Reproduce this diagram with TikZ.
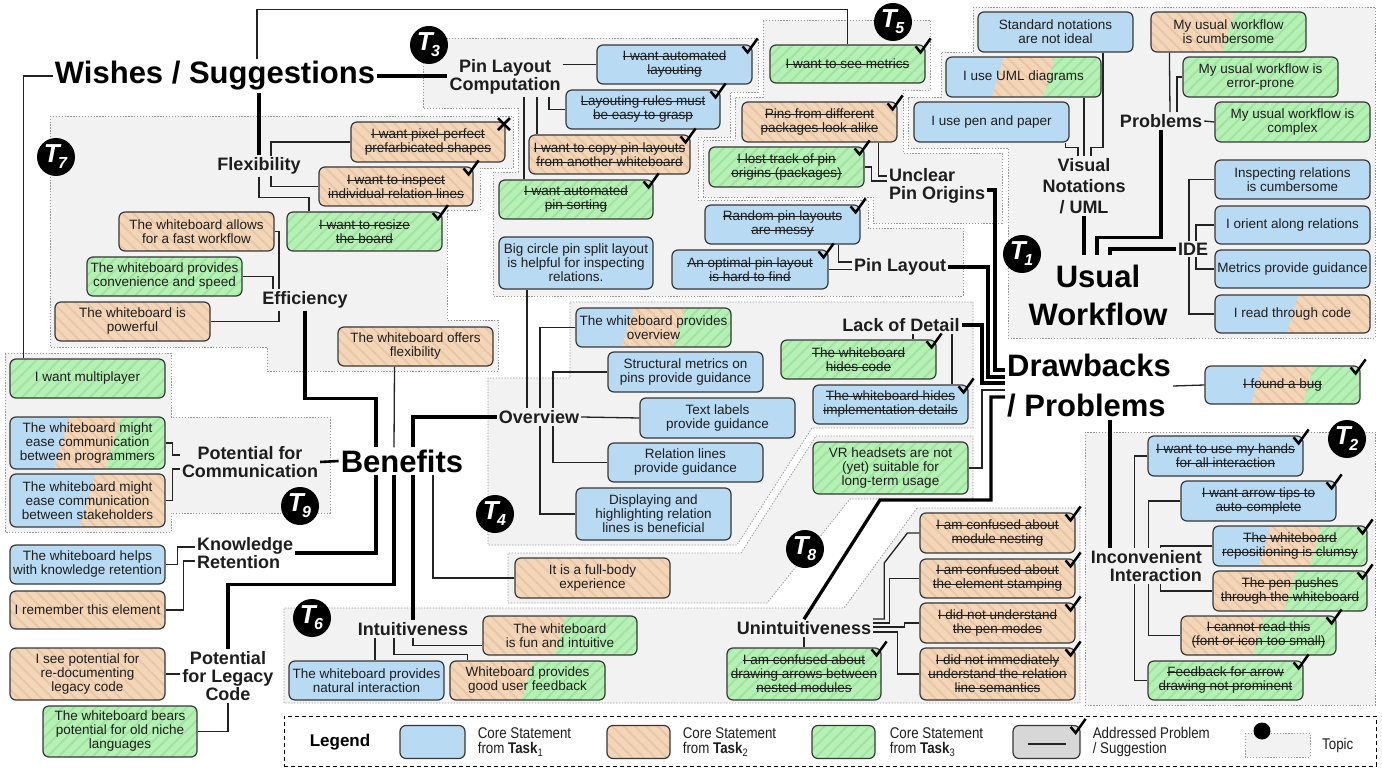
\documentclass[tikz,border=0pt]{standalone}
\usepackage{fontspec}
\setmainfont{Liberation Sans}
\newfontfamily\narrowfont{Liberation Sans}[FakeStretch=0.86]
\usetikzlibrary{calc,patterns.meta}
\definecolor{cblue}{RGB}{184,218,242}
\definecolor{corange}{RGB}{243,213,184}
\definecolor{corangeH}{RGB}{232,197,165}
\definecolor{cgreen}{RGB}{181,240,181}
\definecolor{cgreenH}{RGB}{160,226,160}
\definecolor{cgray}{RGB}{242,242,242}
\definecolor{cregb}{RGB}{150,150,150}
\definecolor{cborder}{RGB}{55,55,55}
\definecolor{cline}{RGB}{35,35,35}
\definecolor{ctext}{RGB}{30,30,30}
\definecolor{clegg}{RGB}{215,215,215}
\pgfdeclarelayer{regions}
\pgfdeclarelayer{bg}
\pgfsetlayers{regions,bg,main}
\newsavebox\skbox
\newcommand\sk[1]{\sbox\skbox{#1}\rlap{\rule[0.27em]{\wd\skbox}{1pt}}\usebox\skbox}
\newcommand\stm[7]{\node[#1,minimum width={#5-#3},minimum height={#6-#4}] (#2) at ({(#3+#5)/2},{(#4+#6)/2}) {#7};}
\newcommand\spII[6]{%
 \begin{scope}
 \clip[rounded corners=6pt] (#1,#2) rectangle (#3,#4);
 \path[#5] (#1,#2) rectangle (#3,#4);
 \path[#6] ({(#1+#3)/2+0.15*(#4-#2)},#2) -- (#3,#2) -- (#3,#4) -- ({(#1+#3)/2-0.15*(#4-#2)},#4) -- cycle;
 \end{scope}}
\newcommand\spIII[7]{%
 \begin{scope}
 \clip[rounded corners=6pt] (#1,#2) rectangle (#3,#4);
 \path[#5] (#1,#2) rectangle (#3,#4);
 \path[#6] ({#1+(#3-#1)/3+0.15*(#4-#2)},#2) -- ({#1+2*(#3-#1)/3+0.15*(#4-#2)},#2) -- ({#1+2*(#3-#1)/3-0.15*(#4-#2)},#4) -- ({#1+(#3-#1)/3-0.15*(#4-#2)},#4) -- cycle;
 \path[#7] ({#1+2*(#3-#1)/3+0.15*(#4-#2)},#2) -- (#3,#2) -- (#3,#4) -- ({#1+2*(#3-#1)/3-0.15*(#4-#2)},#4) -- cycle;
 \end{scope}}
\newcommand\chk[1]{\draw[chkst] ($(#1.north east)+(-10,2)$) -- ++(5,6) -- ++(10,-14);}
\newcommand\Tlab[3]{\node[tcirc] (#1) at (#2) {T\kern-1.5pt\raisebox{-6pt}{\fontsize{16}{16}\selectfont #3}\kern1pt};}
\begin{document}
\begin{tikzpicture}[x=1pt,y=-1pt,
 stmt/.style={draw=cborder, line width=1.2pt, rounded corners=6pt, align=center, inner sep=1pt, font=\fontsize{13.5}{14}\selectfont, text=ctext},
 bx/.style={stmt, fill=cblue},
 ox/.style={stmt, preaction={fill=corange}, pattern={Lines[angle=-45,distance=8pt,line width=1.8pt]}, pattern color=corangeH},
 gx/.style={stmt, preaction={fill=cgreen}, pattern={Lines[angle=45,distance=8pt,line width=1.8pt]}, pattern color=cgreenH},
 sx/.style={stmt},
 fB/.style={fill=cblue},
 fO/.style={preaction={fill=corange}, pattern={Lines[angle=-45,distance=8pt,line width=1.8pt]}, pattern color=corangeH},
 fG/.style={preaction={fill=cgreen}, pattern={Lines[angle=45,distance=8pt,line width=1.8pt]}, pattern color=cgreenH},
 reg/.style={fill=cgray, draw=cregb, line width=0.8pt, dash pattern=on 1.3pt off 1.6pt},
 conn/.style={draw=cline, line width=1.3pt},
 thk/.style={draw=black, line width=3.3pt},
 topbig/.style={font=\fontsize{31}{38}\selectfont\bfseries, inner sep=2pt, align=center, text=black},
 topsub/.style={font=\fontsize{18}{18}\selectfont\bfseries, inner sep=2pt, align=center, text=ctext},
 legtxt/.style={anchor=west, font=\narrowfont\fontsize{15.5}{15}\selectfont, align=left, inner sep=0pt, text=ctext},
 chkst/.style={draw=black, line width=2.5pt},
 tcirc/.style={circle, fill=black, minimum size=38pt, inner sep=0pt, text=white, font=\fontsize{26}{26}\selectfont\bfseries\itshape},
]
\useasboundingbox (0,0) rectangle (1382,770);
\begin{pgfonlayer}{regions}
\fill[white] (0,0) rectangle (1382,770);
\path[reg] (973,7) -- (1375,7) -- (1375,338) -- (1008,338) -- (1008,148) -- (908,148) -- (908,97) -- (941,97) -- (941,52) -- (973,52) -- cycle;
\path[reg] (763,20) -- (930,20) -- (930,90) -- (903,90) -- (903,153) -- (1002,153) -- (1002,223) -- (873,223) -- (873,197) -- (703,197) -- (703,140) -- (735,140) -- (735,97) -- (763,97) -- cycle;
\path[reg] (423,38) -- (758,38) -- (758,92) -- (730,92) -- (730,137) -- (698,137) -- (698,200) -- (868,200) -- (868,228) -- (963,228) -- (963,296) -- (493,296) -- (493,172) -- (518,172) -- (518,108) -- (423,108) -- cycle;
\path[reg] (50,116) -- (513,116) -- (513,168) -- (480,168) -- (480,210) -- (447,210) -- (447,320) -- (498,320) -- (498,371) -- (267,371) -- (267,347) -- (50,347) -- cycle;
\path[reg] (5,353) -- (171,353) -- (171,417) -- (330,417) -- (330,513) -- (171,513) -- (171,532) -- (5,532) -- cycle;
\path[reg] (570,302) -- (973,302) -- (973,428) -- (812,428) -- (737,545) -- (488,545) -- (488,378) -- (570,378) -- cycle;
\path[reg] (816,436) -- (973,436) -- (973,499) -- (850,499) -- (767,603) -- (508,603) -- (508,553) -- (741,553) -- cycle;
\path[reg] (917,508) -- (1080,508) -- (1080,703) -- (284,703) -- (284,608) -- (844,608) -- cycle;
\path[reg] (1085,432) rectangle (1375,705);
\end{pgfonlayer}

% main topics
\node[topbig] (wish) at (215,76) {Wishes / Suggestions};
\node[topbig] (usual) at (1098,295) {Usual\\Workflow};
\node[topbig, font=\fontsize{31}{40}\selectfont\bfseries, align=left, anchor=west] (drw) at (1005,386) {Drawbacks\\/ Problems};
\node[topbig] (ben) at (402,461) {Benefits};

% sub topics
\node[topsub] (plc) at (505,77) {Pin Layout\\Computation};
\node[topsub, fill=cgray] (flex) at (259,166) {Flexibility};
\node[topsub] (eff) at (305,300) {Efficiency};
\node[topsub] (pfc) at (250,462) {Potential for\\Communication};
\node[topsub, align=left, anchor=west] (kr) at (195,553) {Knowledge\\Retention};
\node[topsub] (plg) at (228,676) {Potential\\for Legacy\\Code};
\node[topsub] (intu) at (413,629) {Intuitiveness};
\node[topsub] (ovw) at (539,417) {Overview};
\node[topsub] (lod) at (901,325) {Lack of Detail};
\node[topsub] (pl) at (900,267) {Pin Layout};
\node[topsub, align=left, anchor=west] (upo) at (887,186) {Unclear\\Pin Origins};
\node[topsub, font=\fontsize{18}{21}\selectfont\bfseries] (vis) at (1084,186) {Visual\\Notations\\/ UML};
\node[topsub] (prob) at (1161,121) {Problems};
\node[topsub, fill=cgray] (ide) at (1193,249) {IDE};
\node[topsub] (unin) at (804,628) {Unintuitiveness};
\node[topsub, align=right, anchor=east, fill=cgray] (inc) at (1204,566) {Inconvenient\\Interaction};

% T7
\stm{ox}{b_pix}{351}{122}{505}{162}{\sk{I want pixel-perfect}\\\sk{prefarbicated shapes}}
\stm{ox}{b_insp}{319}{167}{473}{206}{\sk{I want to inspect}\\\sk{individual relation lines}}
\stm{gx}{b_res}{287}{212}{442}{251}{\sk{I want to resize}\\\sk{the board}}
\stm{ox}{b_fast}{119}{212}{274}{251}{The whiteboard allows\\for a fast workflow}
\stm{gx}{b_conv}{87}{257}{242}{296}{The whiteboard provides\\convenience and speed}
\stm{ox}{b_pow}{55}{302}{210}{341}{The whiteboard is\\powerful}
\stm{ox}{b_flexo}{338}{327}{493}{366}{The whiteboard offers\\flexibility}
% T9
\stm{gx}{b_multi}{10}{359}{165}{398}{I want multiplayer}
\spIII{10}{417}{165}{469}{fB}{fO}{fG}
\stm{sx}{b_prog}{10}{417}{165}{469}{The whiteboard might\\ease communication\\between programmers}
\spII{10}{474}{165}{527}{fB}{fO}
\stm{sx}{b_stake}{10}{474}{165}{527}{The whiteboard might\\ease communication\\between stakeholders}
\stm{bx}{b_kr}{10}{545}{165}{584}{The whiteboard helps\\with knowledge retention}
\stm{ox}{b_rem}{10}{591}{165}{629}{I remember this element}
\stm{ox}{b_redoc}{10}{648}{165}{700}{I see potential for\\re-documenting\\legacy code}
\stm{gx}{b_niche}{43}{706}{197}{757}{The whiteboard bears\\potential for old niche\\languages}
% T6
\stm{bx}{b_nat}{289}{661}{444}{700}{The whiteboard provides\\natural interaction}
\spII{450}{661}{605}{700}{fO}{fG}
\stm{sx}{b_fb}{450}{661}{605}{700}{Whiteboard provides\\good user feedback}
\spII{483}{616}{637}{655}{fO}{fG}
\stm{sx}{b_fun}{483}{616}{637}{655}{The whiteboard\\is fun and intuitive}
\stm{ox}{b_body}{515}{558}{670}{598}{It is a full-body\\experience}
% T4
\stm{bx}{b_big}{499}{237}{653}{289}{Big circle pin split layout\\is helpful for inspecting\\relations.}
\spIII{576}{308}{731}{347}{fB}{fO}{fG}
\stm{sx}{b_ovw}{576}{308}{731}{347}{The whiteboard provides\\overview}
\stm{bx}{b_struct}{608}{352}{763}{392}{Structural metrics on\\pins provide guidance}
\stm{bx}{b_text}{640}{398}{795}{438}{Text labels\\provide guidance}
\stm{bx}{b_rel}{608}{443}{763}{482}{Relation lines\\provide guidance}
\stm{bx}{b_disp}{576}{488}{731}{540}{Displaying and\\highlighting relation\\lines is beneficial}
\stm{gx}{b_code}{781}{340}{936}{379}{\sk{The whiteboard}\\\sk{hides code}}
\stm{bx}{b_impl}{813}{385}{968}{424}{\sk{The whiteboard hides}\\\sk{implementation details}}
\stm{gx}{b_vr}{813}{442}{968}{494}{VR headsets are not\\(yet) suitable for\\long-term usage}
% T3
\stm{bx}{b_auto}{597}{45}{752}{84}{\sk{I want automated}\\\sk{layouting}}
\stm{bx}{b_rules}{566}{90}{720}{129}{\sk{Layouting rules must}\\\sk{be easy to grasp}}
\stm{ox}{b_copy}{529}{135}{690}{174}{\sk{I want to copy pin layouts}\\\sk{from another whiteboard}}
\stm{gx}{b_sort}{499}{180}{653}{219}{\sk{I want automated}\\\sk{pin sorting}}
\stm{bx}{b_rand}{705}{205}{860}{244}{\sk{Random pin layouts}\\\sk{are messy}}
\stm{bx}{b_opt}{672}{250}{828}{289}{\sk{An optimal pin layout}\\\sk{is hard to find}}
% T5
\stm{gx}{b_metr}{770}{45}{925}{83}{\sk{I want to see metrics}}
\stm{ox}{b_pins}{742}{102}{897}{142}{\sk{Pins from different}\\\sk{packages look alike}}
\stm{gx}{b_lost}{709}{147}{864}{187}{\sk{I lost track of pin}\\\sk{origins (packages)}}
% T1
\stm{bx}{b_std}{978}{12}{1133}{52}{Standard notations\\are not ideal}
\spIII{946}{57}{1101}{97}{fB}{fO}{fG}
\stm{sx}{b_uml}{946}{57}{1101}{97}{I use UML diagrams}
\stm{bx}{b_pen}{914}{102}{1069}{142}{I use pen and paper}
\spII{1151}{12}{1306}{52}{fO}{fG}
\stm{sx}{b_cumb}{1151}{12}{1306}{52}{My usual workflow\\is cumbersome}
\stm{gx}{b_err}{1183}{57}{1338}{97}{My usual workflow is\\error-prone}
\stm{gx}{b_cplx}{1215}{102}{1370}{142}{My usual workflow is\\complex}
\stm{bx}{b_insr}{1215}{160}{1370}{199}{Inspecting relations\\is cumbersome}
\stm{bx}{b_orient}{1215}{206}{1370}{244}{I orient along relations}
\stm{bx}{b_metg}{1215}{250}{1370}{288}{Metrics provide guidance}
\spII{1215}{295}{1370}{333}{fB}{fO}
\stm{sx}{b_read}{1215}{295}{1370}{333}{I read through code}
% Drawbacks
\spIII{1205}{366}{1360}{404}{fB}{fO}{fG}
\stm{sx}{b_bug}{1205}{366}{1360}{404}{\sk{I found a bug}}
% T8
\stm{ox}{b_nest}{920}{513}{1075}{553}{\sk{I am confused about}\\\sk{module nesting}}
\stm{ox}{b_stamp}{920}{559}{1075}{598}{\sk{I am confused about}\\\sk{the element stamping}}
\stm{ox}{b_penm}{920}{603}{1075}{643}{\sk{I did not understand}\\\sk{the pen modes}}
\stm{ox}{b_sem}{920}{648}{1075}{700}{\sk{I did not immediately}\\\sk{understand the relation}\\\sk{line semantics}}
\stm{gx}{b_arr}{727}{648}{881}{700}{\sk{I am confused about}\\\sk{drawing arrows between}\\\sk{nested modules}}
% T2
\stm{bx}{b_hands}{1148}{436}{1303}{476}{\sk{I want to use my hands}\\\sk{for all interaction}}
\stm{bx}{b_tips}{1181}{481}{1336}{521}{\sk{I want arrow tips to}\\\sk{auto-complete}}
\spIII{1213}{526}{1367}{566}{fB}{fO}{fG}
\stm{sx}{b_repos}{1213}{526}{1367}{566}{\sk{The whiteboard}\\\sk{repositioning is clumsy}}
\spII{1213}{571}{1367}{611}{fO}{fG}
\stm{sx}{b_push}{1213}{571}{1367}{611}{\sk{The pen pushes}\\\sk{through the whiteboard}}
\spII{1181}{616}{1336}{655}{fO}{fG}
\stm{sx}{b_read2}{1181}{616}{1336}{655}{\sk{I cannot read this}\\\sk{(font or icon too small)}}
\stm{gx}{b_feed}{1148}{661}{1303}{700}{\sk{Feedback for arrow}\\\sk{drawing not prominent}}

% check marks
\foreach \n in {b_insp,b_res,b_auto,b_rules,b_copy,b_sort,b_rand,b_opt,b_metr,b_pins,b_lost,b_code,b_impl,b_bug,b_nest,b_stamp,b_penm,b_sem,b_arr,b_hands,b_tips,b_repos,b_push,b_read2,b_feed}{\chk{\n}}
\draw[chkst] ($(b_pix.north east)+(-8,-3)$) -- ++(12,12) ($(b_pix.north east)+(4,-3)$) -- ++(-12,12);

% legend
\node[draw=black, dash pattern=on 4pt off 3pt, line width=1pt, minimum width=1092, minimum height=50, fill=white] (leg) at (830,741) {};
\node[font=\fontsize{17}{17}\selectfont\bfseries] (legt) at (340,742) {Legend};
\node[bx, minimum width=65, minimum height=33] (lb1) at (432.5,742) {};
\node[legtxt] (lt1) at ($(lb1.east)+(12,0)$) {Core Statement\\from \textbf{Task}\textsubscript{1}};
\node[ox, minimum width=63, minimum height=33] (lb2) at (638.5,742) {};
\node[legtxt] (lt2) at ($(lb2.east)+(12,0)$) {Core Statement\\from \textbf{Task}\textsubscript{2}};
\node[gx, minimum width=63, minimum height=33] (lb3) at (843.5,742) {};
\node[legtxt] (lt3) at ($(lb3.east)+(14,0)$) {Core Statement\\from \textbf{Task}\textsubscript{3}};
\node[stmt, fill=clegg, minimum width=67, minimum height=33] (lb4) at (1046.5,742) {};
\draw[conn, line width=1.2pt] ($(lb4.center)+(-19,2)$) -- ++(38,0);
\chk{lb4}
\node[legtxt] (lt4) at ($(lb4.east)+(12,0)$) {Addressed Problem\\/ Suggestion};
\path[reg] (1245,733) rectangle (1310,757);
\fill[black] (1262,731) circle (8.5);
\node[legtxt] (lt5) at (1322,745) {Topic};

% topic markers
\Tlab{t1}{1022,254}{1}
\Tlab{t2}{1347,439}{2}
\Tlab{t3}{429,45}{3}
\Tlab{t4}{495,514}{4}
\Tlab{t5}{893,22}{5}
\Tlab{t6}{312,618}{6}
\Tlab{t7}{56,157}{7}
\Tlab{t8}{805,549}{8}
\Tlab{t9}{300,506}{9}

% connectors
\begin{pgfonlayer}{bg}
\draw[conn] ($(wish.north)+(42,0)$) |- ($(b_metr.north)+(0,-35)$) -- (b_metr.north);
\draw[conn] (wish.west) -| ($(b_multi.north west)+(14,0)$);
\draw[thk] (wish.east) -- (plc.west |- wish.east);
\draw[thk] (flex.north |- wish.south) -- (flex.north);
\draw[conn] (flex.south) -- ++(0,21) -| ($(b_res.north west)+(23,0)$);
\draw[conn] (b_pix.west) -| ($(flex.center)+(12,0)$) |- (b_insp.west);
\draw[conn] (b_fast.east) -| ($(eff.north)+(-26,0)$);
\draw[conn] (b_conv.east) -| ($(eff.north)+(-32,0)$);
\draw[conn] (b_pow.east) -| ($(eff.south)+(-26,0)$);
\draw[thk] (eff.south) -- ++(0,88) -| ($(ben.north)+(-26,0)$);
\draw[conn] ($(b_flexo.south)+(-21,0)$) -- ($(ben.north)+(-8,0)$);
\draw[thk] ($(ben.north)+(11,0)$) |- (ovw.west);
\draw[thk, line width=2.6pt] (pfc.east) -- (ben.west);
\draw[thk] ($(ben.south)+(-26,0)$) |- (kr.east);
\draw[thk] ($(ben.south)+(-8,0)$) -- ++(0,110) -| (plg.north);
\draw[thk] ($(ben.south)+(11,0)$) -- (intu.north);
\draw[conn] ($(ben.south)+(31,0)$) |- (b_body.west);
\draw[conn] (b_prog.east) -- ++(7,0) |- ($(pfc.west)+(0,-7)$);
\draw[conn] (b_stake.east) -- ++(7,0) |- ($(pfc.west)+(0,7)$);
\draw[conn] (b_kr.east) -- ++(12,0) |- ($(kr.west)+(0,-6)$);
\draw[conn] (b_rem.east) -- ++(18,0) |- ($(kr.west)+(0,8)$);
\draw[conn] (b_redoc.east) -- (plg.west |- b_redoc.east);
\draw[conn] (b_niche.east) -| (plg.south);
\draw[conn] ($(intu.south)+(-38,0)$) -- ($(b_nat.north)+(8.5,0)$);
\draw[conn] ($(intu.south)+(-19,0)$) -- ++(0,17) -| ($(b_fb.north west)+(18,0)$);
\draw[conn] (intu.south) |- ($(b_fun.west)+(0,10)$);
\draw[conn] ($(b_big.south)+(-49,0)$) -- ($(ovw.north)+(-12,0)$);
\draw[conn] (b_ovw.west) -| ($(ovw.north)+(1,0)$);
\draw[conn] (b_struct.west) -| ($(ovw.north)+(14,0)$);
\draw[conn] (ovw.east) -- (b_text.west);
\draw[conn] ($(ovw.south)+(14,0)$) |- (b_rel.west);
\draw[conn] ($(ovw.south)+(1,0)$) |- (b_disp.west);
\draw[conn] ($(lod.south)+(12,0)$) -- ($(b_code.north)+(54.5,0)$);
\draw[conn] ($(lod.south)+(51,0)$) -- ($(b_impl.north)+(61.5,0)$);
\draw[thk] (lod.east) -| ($(drw.west)+(-23,-3)$) -- ($(drw.west)+(0,-3)$);
\draw[thk] (pl.east) -| ($(drw.west)+(-17,-9)$) -- ($(drw.west)+(0,-9)$);
\draw[thk] ($(upo.east)+(0,4)$) -| ($(drw.west)+(-10,-16)$) -- ($(drw.west)+(0,-16)$);
\draw[conn] (b_vr.east) -| ($(drw.west)+(-23,4)$) -- ($(drw.west)+(0,4)$);
\draw[thk] ($(drw.west)+(0,11)$) -| ($(drw.west)+(-14,114)$) -- ($(drw.west)+(-125,114)$) -- (unin.north);
\draw[conn] (drw.east) -- (b_bug.west);
\coordinate (dd) at ($(drw.south)+(21,0)$);
\draw[thk] (dd) -- (dd |- inc.north);
\draw[conn] ($(b_pins.south east)+(-19,0)$) |- ($(upo.west)+(0,-10)$);
\draw[conn] (b_lost.east) -- ++(7,0) |- ($(upo.west)+(0,-5)$);
\draw[conn] ($(b_rand.south east)+(-22,0)$) |- ($(pl.west)+(0,-5)$);
\draw[conn] (b_opt.east) -- (pl.west |- b_opt.east);
\draw[conn] (plc.east |- b_auto.west) -- (b_auto.west);
\draw[conn] ($(plc.south)+(44,0)$) |- (b_rules.west);
\draw[conn] ($(plc.south)+(32,0)$) -- ($(b_copy.north)+(-72.5,0)$);
\draw[conn] ($(plc.south)+(19,0)$) -- ($(b_sort.north)+(-52,0)$);
\draw[conn] ($(b_pen.south east)+(-4,0)$) -- ++(0,5) -| ($(vis.north)+(-6,0)$);
\draw[conn] ($(b_uml.south)+(60.5,0)$) -- (vis.north);
\draw[conn] ($(b_std.south)+(47.5,0)$) -- ++(0,95) -| ($(vis.north)+(7,0)$);
\draw[thk] (vis.south) -- ($(usual.north)+(-14,-7)$);
\draw[thk] (prob.south) |- ($(usual.north)+(-1,-25)$) -- ($(usual.north)+(-1,-7)$);
\draw[thk] (ide.west) -| ($(usual.north)+(12,-7)$);
\draw[conn] ($(b_cumb.south west)+(19,0)$) -- ($(prob.north)+(9,0)$);
\draw[conn] (b_err.west) -| ($(prob.north)+(16,0)$);
\draw[conn] (prob.east) -- (b_cplx.west);
\draw[conn] (b_insr.west) -| ($(ide.center)+(-4,0)$) |- (b_read.west);
\draw[conn] (b_orient.west) -| ($(ide.north)+(3,0)$);
\draw[conn] (b_metg.west) -| ($(ide.south)+(3,0)$);
\draw[conn] (b_hands.west) -| ($(inc.west)+(46,0)$) |- (b_feed.west);
\draw[conn] (b_tips.west) -| ($(inc.west)+(60,0)$) |- (b_read2.west);
\draw[conn] (b_repos.west) -| ($(inc.north west)+(72,0)$);
\draw[conn] (b_push.west) -| ($(inc.south west)+(72,0)$);
\draw[conn] ($(unin.east)+(0,-9)$) -- ++(11,0) -- ++(0,-56) -- ($(b_nest.west)+(-12,0)$) -- (b_nest.west);
\draw[conn] ($(unin.east)+(0,-5)$) -- ++(16,0) |- (b_stamp.west);
\draw[conn] ($(unin.east)+(0,-1)$) -- ++(31,0) |- (b_penm.west);
\draw[conn] ($(unin.east)+(0,4)$) -- ++(24,0) |- (b_sem.west);
\draw[conn] (unin.south) -- (b_arr.north);
\end{pgfonlayer}
\end{tikzpicture}
\end{document}
